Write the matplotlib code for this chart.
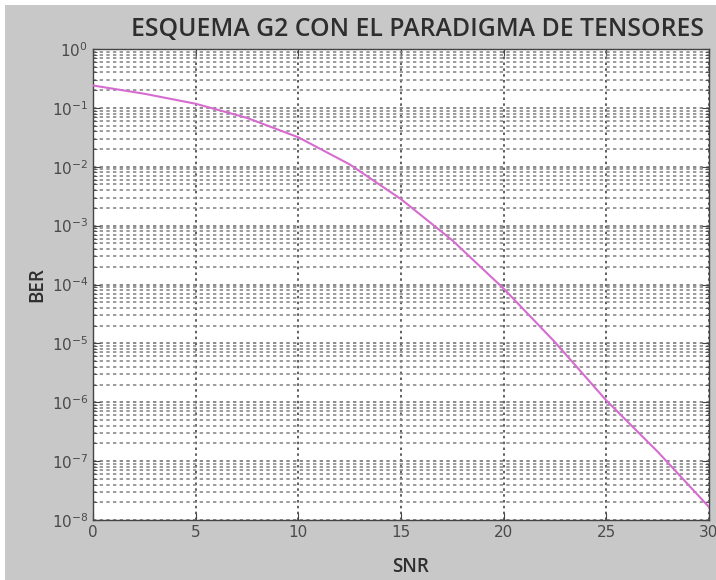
import numpy as np
import matplotlib.pyplot as plt
from matplotlib.patches import Rectangle
from matplotlib.ticker import LogLocator, NullFormatter

# datos (SNR en dB, log10 del BER)
snr = [0, 2.5, 5, 7.5, 10, 12.5, 15, 17.5, 20, 22.5, 25, 27.5, 30]
log_ber = [-0.62, -0.76, -0.93, -1.17, -1.50, -1.96, -2.55, -3.25, -4.07, -4.98, -5.97, -6.84, -7.78]
ber = 10.0 ** np.array(log_ber)

x_ticks = [0, 5, 10, 15, 20, 25, 30]
y_exps = list(range(0, -9, -1))

gris = '#c8c8c8'
txt = '#2e2e2e'

fig = plt.figure(figsize=(7.16, 5.80), dpi=100, facecolor='white')
# fondo gris de la ventana (con borde blanco arriba y a la izquierda)
fig.patches.append(Rectangle((5 / 716, 0), 1, 1 - 5 / 580, transform=fig.transFigure,
                             facecolor=gris, edgecolor='none', zorder=-10))

ax = fig.add_axes([93 / 716, 60 / 580, 616 / 716, 471 / 580])
ax.set_facecolor('white')

ax.semilogy(snr, ber, color='#d66ccf', linewidth=1.5, zorder=3)

ax.set_xlim(0, 30)
ax.set_ylim(1e-8, 1)
ax.set_xticks(x_ticks)
ax.set_xticklabels([str(t) for t in x_ticks])
ax.set_yticks([10.0 ** e for e in y_exps])
ax.set_yticklabels([r'$10^{%d}$' % e for e in y_exps])
ax.yaxis.set_minor_locator(LogLocator(base=10, subs=np.arange(2, 10), numticks=20))
ax.yaxis.set_minor_formatter(NullFormatter())

# rejilla punteada estilo matlab
ax.grid(True, which='major', axis='x', linestyle=(0, (1.5, 2.0)), color='#444444', linewidth=1.2)
ax.grid(True, which='major', axis='y', linestyle=(0, (2.0, 2.0)), color='#777777', linewidth=1.2)
ax.grid(True, which='minor', axis='y', linestyle=(0, (2.0, 2.0)), color='#8a8a8a', linewidth=1.2)

ax.tick_params(which='both', direction='in', top=True, right=True, colors='#444444',
               labelcolor='#4a4a4a', labelsize=11)
ax.tick_params(which='major', length=5)
ax.tick_params(which='minor', length=3)
for s in ax.spines.values():
    s.set_color('#444444')
    s.set_linewidth(1.0)

ax.set_title('ESQUEMA G2 CON EL PARADIGMA DE TENSORES', family='Open Sans',
             fontsize=17.8, fontweight='semibold', color=txt, pad=9, x=0.527)
ax.set_xlabel('SNR', family='Open Sans', fontsize=13.5, fontweight='semibold',
              color=txt, labelpad=12, x=0.515)
ax.set_ylabel('BER', family='Open Sans', fontsize=13.5, fontweight='semibold',
              color=txt, labelpad=3)

fig.savefig('out.png', dpi=100, facecolor=fig.get_facecolor())
